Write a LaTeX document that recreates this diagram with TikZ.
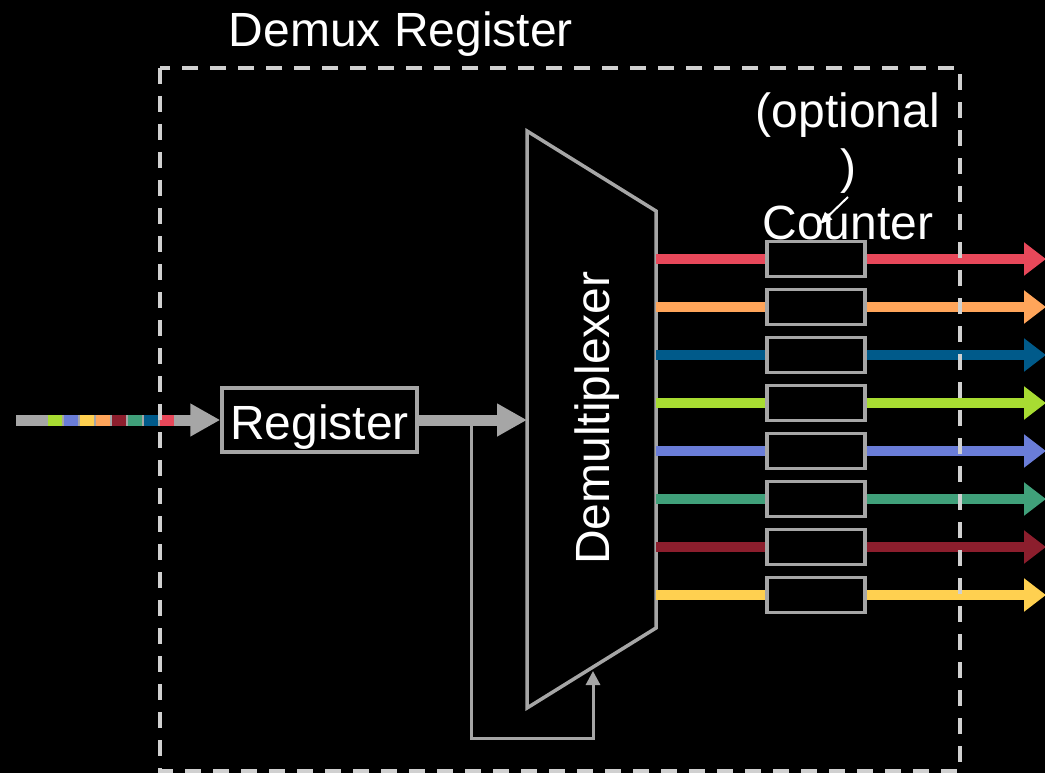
\documentclass[tikz,border=0pt]{standalone}
\usepackage{fontspec}
\setmainfont{Liberation Sans}
\usetikzlibrary{arrows.meta}
\definecolor{wire}{HTML}{A6A6A6}
\definecolor{frame}{HTML}{D0D0D0}
\definecolor{chred}{HTML}{E8485A}
\definecolor{chorange}{HTML}{FFA55A}
\definecolor{chnavy}{HTML}{005A8A}
\definecolor{chlime}{HTML}{A8DC32}
\definecolor{chblue}{HTML}{6A7DD8}
\definecolor{chteal}{HTML}{40A07A}
\definecolor{chwine}{HTML}{8C1E2D}
\definecolor{chyellow}{HTML}{FFD050}
\tikzset{
  lbl/.style={text=white, inner sep=0pt, font=\fontsize{48}{56}\selectfont},
  regbox/.style={draw=wire, line width=3.5pt, fill=black, minimum width=195pt, minimum height=64pt, inner sep=0pt},
  cntbox/.style={draw=wire, line width=3.5pt, fill=black, minimum width=98pt, minimum height=35pt, inner sep=0pt},
  bus/.style={draw=wire, line width=11pt, -{Triangle[length=30pt,width=31pt]}},
  thinwire/.style={draw=wire, line width=3pt},
  chan/.style={line width=10pt, -{Triangle[length=22pt,width=32pt]}},
  chunk/.style={minimum width=14pt, minimum height=11pt, inner sep=0pt},
}
\begin{document}
\begin{tikzpicture}[x=1pt,y=-1pt]
\fill[black] (0,0) rectangle (1045,773);
\useasboundingbox (0,0) rectangle (1045,773);

% title of the enclosing block
\node[lbl, anchor=base] (title) at (401,47) {Demux Register};

% serial input stream
\coordinate (src) at (16,420);
\node[regbox] (reg) at (319.5,420) {};
\node[lbl, anchor=base] (regtext) at (319.5,439) {Register};
\draw[bus] (src) -- (reg.west);
\foreach \c [count=\k from 0] in {chlime,chblue,chyellow,chorange,chwine,chteal,chnavy,chred}
  \node[chunk, fill=\c] (in\k) at (55+16*\k,420) {};

% demultiplexer body
\coordinate (dmA) at (527,131);
\coordinate (dmB) at (656,211);
\coordinate (dmC) at (656,628);
\coordinate (dmD) at (527,708);
\coordinate (dmin) at (527,420);
\coordinate (dmsel) at (593,671);
\draw[wire, line width=3.5pt, fill=black, line join=miter] (dmA) -- (dmB) -- (dmC) -- (dmD) -- cycle;
\node[lbl, rotate=90] (dmlabel) at (597,418) {Demultiplexer};

% register output into the demux, with feedback to the select input
\coordinate (fb) at (471,420);
\draw[bus] (reg.east) -- (dmin);
\draw[thinwire, -{Triangle[length=14pt,width=14pt]}] (fb) |- (593,738) -- (dmsel);

% output channels through optional counters
\foreach \c [count=\k from 0] in {chred,chorange,chnavy,chlime,chblue,chteal,chwine,chyellow} {
  \coordinate (o\k) at (656,259+48*\k);
  \coordinate (t\k) at (1046,259+48*\k);
  \node[cntbox] (c\k) at (816,259+48*\k) {};
  \draw[chan, draw=\c, fill=\c] (c\k.east) -- (t\k);
  \draw[line width=10pt, draw=\c] (o\k) -- (c\k.west);
}

% optional counter note
\node[lbl, align=center] (note) at (848,166) {(optional\\)\\Counter};
\coordinate (noteTip) at (848,197);
\coordinate (noteTo) at (820,224);
\draw[white, line width=2pt, -{Triangle[length=12pt,width=10pt]}] (noteTip) -- (noteTo);

% enclosing dashed frame
\draw[frame, line width=4pt, dash pattern=on 16pt off 12pt] (160,68) rectangle (960,771);
\end{tikzpicture}
\end{document}
